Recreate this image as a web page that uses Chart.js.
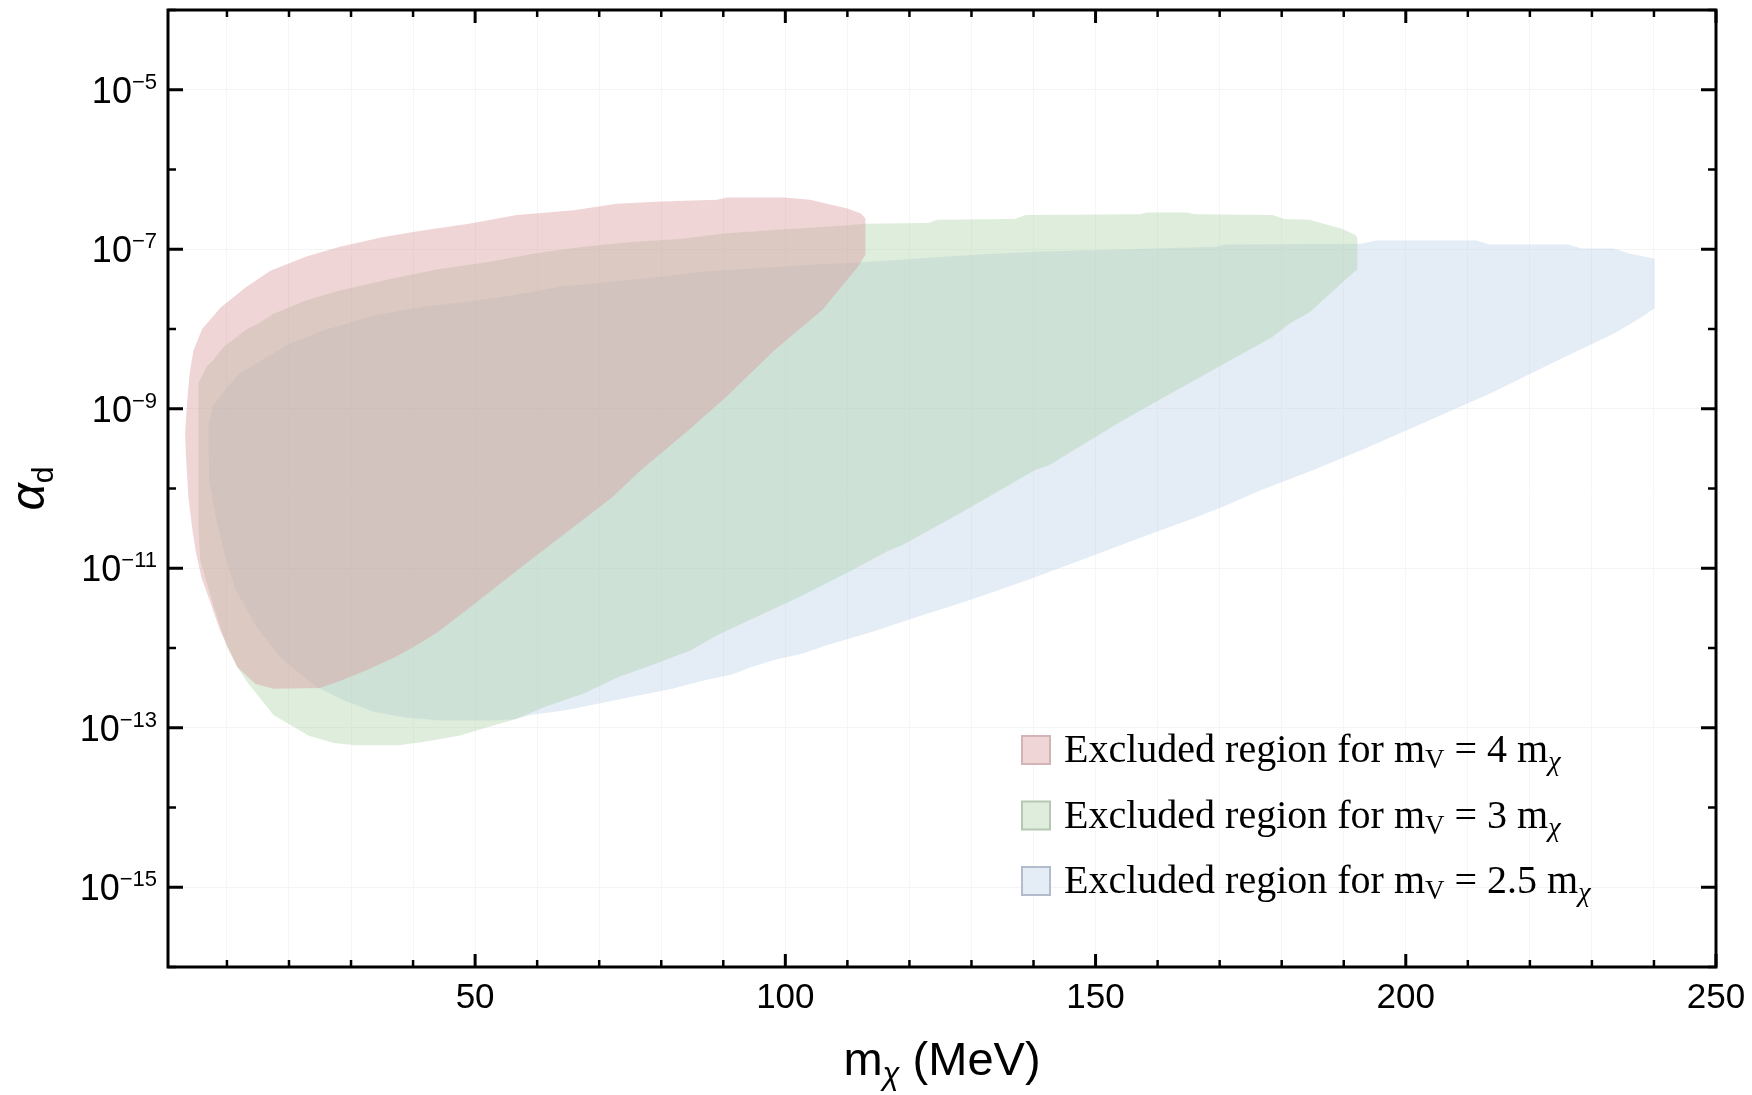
<!DOCTYPE html>
<html><head><meta charset="utf-8">
<script src="https://cdn.jsdelivr.net/npm/chart.js@4.4.1/dist/chart.umd.min.js"></script>
<style>html,body{margin:0;padding:0;background:#fff;}canvas{display:block;}</style>
</head><body>
<canvas id="c" width="1752" height="1095"></canvas>
<script>
// ---- data (m_chi in MeV, log10 of alpha_d) ----
const pinkMass = [3.25,3.6,4.0,4.6,6.0,9.0,13.0,17.0,22.8,28.2,35.0,41.0,49.0,56.7,65.9,72.8,80.0,89.0,90.5,99.8,104.0,106.7,110.0,112.1,112.9,112.9,111.7,106.0,98.2,90.5,84.4,76.7,72.1,64.4,56.7,49.0,44.0,40.5,37.0,32.5,28.0,25.0,17.5,14.6,11.7,10.9,8.9,7.2,5.9,5.0,4.4,3.8,3.4];
const pinkLogAlpha = [-9.3,-8.9,-8.55,-8.27,-8.0,-7.73,-7.48,-7.27,-7.09,-6.97,-6.85,-6.77,-6.68,-6.57,-6.51,-6.43,-6.40,-6.38,-6.35,-6.35,-6.38,-6.43,-6.49,-6.55,-6.61,-7.07,-7.22,-7.76,-8.27,-8.85,-9.27,-9.77,-10.11,-10.57,-11.03,-11.5,-11.8,-11.97,-12.12,-12.28,-12.42,-12.5,-12.51,-12.45,-12.24,-12.11,-11.78,-11.4,-11.12,-10.8,-10.5,-10.12,-9.6];

const greenMass = [5.4,5.9,6.75,7.8,9.5,11.6,13.2,15.1,17.5,19.7,22.8,28.0,36.5,44.0,52.1,59.8,67.4,75.1,82.9,90.5,98.2,105.9,112.9,123.1,124.5,136.9,138.8,157.3,158.2,164.7,166.0,178.5,180.4,184.5,185.9,189.6,191.9,192.2,192.2,189.6,184.5,181.3,178.5,167.4,154.5,142.5,140.2,128.6,118.9,116.6,110.6,102.5,95.9,89.0,84.7,79.0,73.2,67.5,61.2,56.6,53.1,47.4,41.6,37.6,30.7,27.2,23.2,17.5,13.5,11.7,10.0,7.7,5.7,5.4];
const greenLogAlpha = [-8.68,-8.6,-8.47,-8.39,-8.22,-8.1,-8.0,-7.93,-7.81,-7.74,-7.64,-7.52,-7.37,-7.25,-7.16,-7.05,-6.97,-6.91,-6.87,-6.80,-6.76,-6.72,-6.68,-6.67,-6.63,-6.62,-6.57,-6.56,-6.54,-6.54,-6.56,-6.57,-6.62,-6.63,-6.66,-6.74,-6.82,-6.86,-7.25,-7.43,-7.79,-7.93,-8.10,-8.58,-9.14,-9.71,-9.77,-10.29,-10.71,-10.78,-11.03,-11.35,-11.59,-11.84,-12.03,-12.2,-12.36,-12.57,-12.74,-12.89,-12.97,-13.10,-13.18,-13.22,-13.22,-13.19,-13.10,-12.84,-12.45,-12.24,-11.99,-11.44,-10.9,-10.5];

const blueMass = [7.02,7.6,10.0,12.0,14.8,20.2,25.5,33.6,41.6,48.2,55.9,63.6,71.3,79.0,86.7,94.4,102.1,112.9,130.5,140.6,155.4,169.3,171.1,192.8,195.2,211.3,213.6,226.1,228.4,233.5,235.8,240.1,240.1,237.6,233.5,225.6,213.6,200.7,192.8,185.0,176.7,171.1,165.6,158.2,149.0,139.7,130.5,121.2,113.9,106.5,102.8,98.2,94.4,91.5,86.7,81.8,76.1,70.4,64.6,58.9,56.6,53.1,44.5,38.7,33.6,29.0,24.4,22.3,18.6,14.6,11.3,9.7,8.3,7.1];
const blueLogAlpha = [-9.23,-8.98,-8.73,-8.56,-8.43,-8.18,-8.02,-7.83,-7.72,-7.66,-7.58,-7.47,-7.41,-7.35,-7.28,-7.24,-7.20,-7.16,-7.07,-7.03,-7.0,-6.97,-6.94,-6.93,-6.89,-6.89,-6.94,-6.94,-6.99,-6.99,-7.05,-7.12,-7.74,-7.87,-8.06,-8.35,-8.81,-9.25,-9.52,-9.77,-10.02,-10.21,-10.38,-10.59,-10.86,-11.13,-11.38,-11.61,-11.80,-11.97,-12.07,-12.15,-12.24,-12.33,-12.41,-12.51,-12.6,-12.69,-12.78,-12.84,-12.89,-12.91,-12.91,-12.87,-12.80,-12.66,-12.49,-12.36,-12.12,-11.72,-11.25,-10.85,-10.4,-9.9];

const seriesRatios = ['4', '3', '2.5'];
const seriesLabels = seriesRatios.map(r => 'Excluded region for mV = ' + r + ' m\u03C7');

// ticks
const xTickValues = [10,20,30,40,50,60,70,80,90,100,110,120,130,140,150,160,170,180,190,200,210,220,230,240,250];
const xLabelValues = [50,100,150,200,250];
const yTickExponents = [-16,-15,-14,-13,-12,-11,-10,-9,-8,-7,-6,-5,-4];
const yLabelExponents = [-15,-13,-11,-9,-7,-5];

// ---- styling ----
const SANS = '"Liberation Sans", Arial, Helvetica, sans-serif';
const SERIF = '"Liberation Serif", "Times New Roman", Times, serif';
const fillColors = ['rgba(218,150,155,0.4)', 'rgba(172,210,168,0.4)', 'rgba(188,208,233,0.4)'];
const swatchBorders = ['#d4b3b6', '#b4c8b2', '#b3bccb'];

function toPoints(mass, logA) { return mass.map((m, i) => ({ x: m, y: Math.pow(10, logA[i]) })); }

const regions = [
  { mass: pinkMass, logA: pinkLogAlpha },
  { mass: greenMass, logA: greenLogAlpha },
  { mass: blueMass, logA: blueLogAlpha }
];

const datasets = regions.map((r, i) => ({
  label: seriesLabels[i],
  data: toPoints(r.mass, r.logA),
  showLine: true,
  fill: 'shape',
  backgroundColor: fillColors[i],
  borderColor: 'rgba(0,0,0,0)',
  borderWidth: 0,
  pointRadius: 0,
  pointHoverRadius: 0,
  tension: 0
}));

function line(ctx, x1, y1, x2, y2) { ctx.beginPath(); ctx.moveTo(x1, y1); ctx.lineTo(x2, y2); ctx.stroke(); }

function drawRuns(ctx, runs, x, y, align) {
  let total = 0;
  runs.forEach(r => { ctx.font = r.font; r.w = ctx.measureText(r.t).width; total += r.w; });
  let cx = align === 'center' ? x - total / 2 : (align === 'right' ? x - total : x);
  ctx.textAlign = 'left';
  ctx.textBaseline = 'alphabetic';
  runs.forEach(r => { ctx.font = r.font; ctx.fillText(r.t, cx, y + (r.dy || 0)); cx += r.w; });
}

const decor = {
  id: 'decor',
  afterDatasetsDraw(chart) {
    const ctx = chart.ctx, a = chart.chartArea, xs = chart.scales.x, ys = chart.scales.y;
    ctx.save();
    ctx.strokeStyle = '#000';
    ctx.fillStyle = '#000';
    ctx.lineCap = 'butt';
    xTickValues.forEach(v => {
      const px = xs.getPixelForValue(v);
      const major = xLabelValues.includes(v);
      const len = major ? 13 : 7;
      ctx.lineWidth = major ? 3 : 2.5;
      line(ctx, px, a.bottom, px, a.bottom - len);
      line(ctx, px, a.top, px, a.top + len);
    });
    yTickExponents.forEach(e => {
      const py = ys.getPixelForValue(Math.pow(10, e));
      const major = yLabelExponents.includes(e);
      const len = major ? 15 : 8;
      ctx.lineWidth = major ? 3 : 2.5;
      line(ctx, a.left, py, a.left + len, py);
      line(ctx, a.right, py, a.right - len, py);
    });
    ctx.lineWidth = 3;
    ctx.strokeRect(a.left, a.top, a.right - a.left, a.bottom - a.top);

    ctx.font = '35px ' + SANS;
    ctx.textAlign = 'center';
    ctx.textBaseline = 'alphabetic';
    xLabelValues.forEach(v => {
      ctx.fillText(String(v), xs.getPixelForValue(v), a.bottom + 41);
    });
    yLabelExponents.forEach(e => {
      const py = ys.getPixelForValue(Math.pow(10, e));
      drawRuns(ctx, [
        { t: '10', font: '36px ' + SANS, dy: 13 },
        { t: '\u2212' + Math.abs(e), font: '22px ' + SANS, dy: -1 }
      ], 157, py, 'right');
    });
    drawRuns(ctx, [
      { t: 'm', font: '47px ' + SANS, dy: 0 },
      { t: '\u03C7', font: 'italic 31px ' + SANS, dy: 9 },
      { t: ' (MeV)', font: '47px ' + SANS, dy: 0 }
    ], (a.left + a.right) / 2, 1075, 'center');
    ctx.save();
    ctx.translate(44, (a.top + a.bottom) / 2);
    ctx.rotate(-Math.PI / 2);
    drawRuns(ctx, [
      { t: '\u03B1', font: 'italic 48px ' + SANS, dy: 0 },
      { t: 'd', font: '30px ' + SANS, dy: 9 }
    ], 0, 0, 'center');
    ctx.restore();

    const legendX = 1022, legendY0 = 750, legendStep = 65.5, box = 28;
    seriesRatios.forEach((r, i) => {
      const yc = legendY0 + i * legendStep;
      ctx.fillStyle = '#fff';
      ctx.fillRect(legendX, yc - box / 2, box, box);
      ctx.fillStyle = fillColors[i];
      ctx.fillRect(legendX, yc - box / 2, box, box);
      ctx.strokeStyle = swatchBorders[i];
      ctx.lineWidth = 2;
      ctx.strokeRect(legendX, yc - box / 2, box, box);
      ctx.fillStyle = '#000';
      drawRuns(ctx, [
        { t: 'Excluded region for m', font: '40px ' + SERIF, dy: 0 },
        { t: 'V', font: '27px ' + SERIF, dy: 6 },
        { t: ' = ' + r + ' m', font: '40px ' + SERIF, dy: 0 },
        { t: '\u03C7', font: 'italic 28px ' + SERIF, dy: 8 }
      ], 1064, yc + 12, 'left');
    });
    ctx.restore();
  }
};

new Chart(document.getElementById('c').getContext('2d'), {
  type: 'scatter',
  data: { datasets },
  options: {
    responsive: false,
    animation: false,
    events: [],
    layout: { padding: { left: 0, right: 36, top: 10, bottom: 0 } },
    plugins: { legend: { display: false }, tooltip: { enabled: false }, title: { display: false } },
    scales: {
      x: {
        type: 'linear', min: 0.5, max: 250,
        afterFit: s => { s.height = 128; },
        afterBuildTicks: s => { s.ticks = xTickValues.map(v => ({ value: v })); },
        ticks: { display: false },
        grid: { color: '#f6f6f6', lineWidth: 1, drawTicks: false },
        border: { display: false }
      },
      y: {
        type: 'logarithmic', min: 1e-16, max: 1e-4,
        afterFit: s => { s.width = 168; },
        afterBuildTicks: s => { s.ticks = yTickExponents.map(e => ({ value: Math.pow(10, e) })); },
        ticks: { display: false },
        grid: {
          color: c => (c.tick && yLabelExponents.includes(Math.round(Math.log10(c.tick.value)))) ? '#f4f4f4' : 'rgba(0,0,0,0)',
          lineWidth: 1, drawTicks: false
        },
        border: { display: false }
      }
    }
  },
  plugins: [decor]
});
</script>
</body></html>
